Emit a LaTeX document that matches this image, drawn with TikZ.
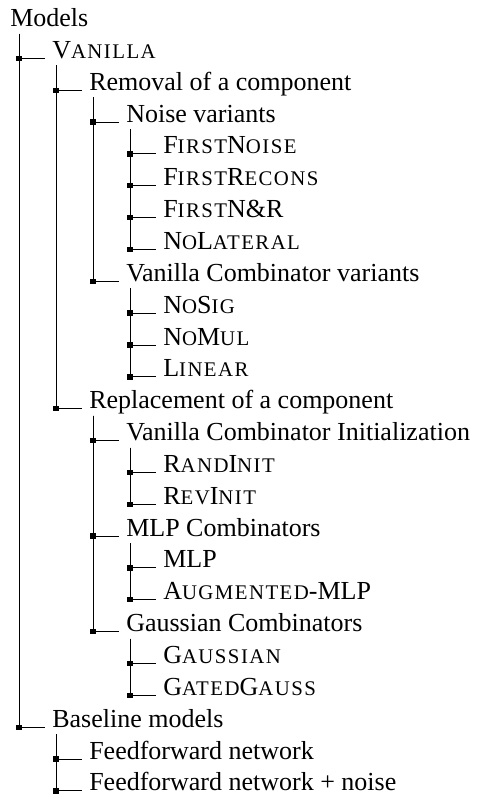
\documentclass[tikz,border=0pt]{standalone}
\usepackage{fontspec}
\setmainfont{Liberation Serif}
\usetikzlibrary{positioning,calc}

% fake small caps (Liberation Serif has none)
\newfontfamily\scfam[LetterSpace=7]{Liberation Serif}
\newcommand{\fsc}[1]{{\scfam\fontsize{15.6pt}{15.6pt}\selectfont #1}}

\begin{document}
\begin{tikzpicture}[x=0.75pt,y=-0.75pt,
    lbl/.style={anchor=base west,inner sep=0pt,font=\fontsize{19.5pt}{19.5pt}\selectfont},
    branch/.style={line width=0.7pt},
    junc/.style={fill,rectangle,inner sep=0pt,minimum size=4pt}]
    \useasboundingbox (0,0) rectangle (479,794);

    % the root
    \node[lbl] (models) at (10,26.5) {Models};

    % the vanilla branch
    \node[lbl] (vanilla) at (52,58.35) {V\fsc{ANILLA}};
    \node[lbl] (removal) at (89,90.2) {Removal of a component};
    \node[lbl] (noise) at (126,122.05) {Noise variants};
    \node[lbl] (firstnoise) at (163,153.9) {F\fsc{IRST}N\fsc{OISE}};
    \node[lbl] (firstrecons) at (163,185.75) {F\fsc{IRST}R\fsc{ECONS}};
    \node[lbl] (firstnr) at (163,217.6) {F\fsc{IRST}N\&R};
    \node[lbl] (nolateral) at (163,249.45) {N\fsc{O}L\fsc{ATERAL}};
    \node[lbl] (vcvar) at (126,281.3) {Vanilla Combinator variants};
    \node[lbl] (nosig) at (163,313.15) {N\fsc{O}S\fsc{IG}};
    \node[lbl] (nomul) at (163,345.0) {N\fsc{O}M\fsc{UL}};
    \node[lbl] (linear) at (163,376.85) {L\fsc{INEAR}};
    \node[lbl] (replace) at (89,408.7) {Replacement of a component};
    \node[lbl] (vcinit) at (126,440.55) {Vanilla Combinator Initialization};
    \node[lbl] (randinit) at (163,472.4) {R\fsc{AND}I\fsc{NIT}};
    \node[lbl] (revinit) at (163,504.25) {R\fsc{EV}I\fsc{NIT}};
    \node[lbl] (mlpcomb) at (126,536.1) {MLP Combinators};
    \node[lbl] (mlp) at (163,567.95) {MLP};
    \node[lbl] (augmlp) at (163,599.8) {A\fsc{UGMENTED}-MLP};
    \node[lbl] (gausscomb) at (126,631.65) {Gaussian Combinators};
    \node[lbl] (gaussian) at (163,663.5) {G\fsc{AUSSIAN}};
    \node[lbl] (gatedgauss) at (163,695.35) {G\fsc{ATED}G\fsc{AUSS}};

    % the baseline branch
    \node[lbl] (baseline) at (52,727.2) {Baseline models};
    \node[lbl] (ffnet) at (89,759.05) {Feedforward network};
    \node[lbl] (ffnoise) at (89,790.9) {Feedforward network + noise};

    % the tree lines with the small squares
    \foreach \p/\c in {models/vanilla, vanilla/removal, removal/noise,
        noise/firstnoise, noise/firstrecons, noise/firstnr, noise/nolateral,
        removal/vcvar, vcvar/nosig, vcvar/nomul, vcvar/linear,
        vanilla/replace, replace/vcinit, vcinit/randinit, vcinit/revinit,
        replace/mlpcomb, mlpcomb/mlp, mlpcomb/augmlp,
        replace/gausscomb, gausscomb/gaussian, gausscomb/gatedgauss,
        models/baseline, baseline/ffnet, baseline/ffnoise}
        \draw[branch] ($(\p.base west -| \c.base west)+(-33,7)$) |- ($(\c.base west)+(-7,0)$) node[pos=0.5,junc] {};
\end{tikzpicture}
\end{document}
